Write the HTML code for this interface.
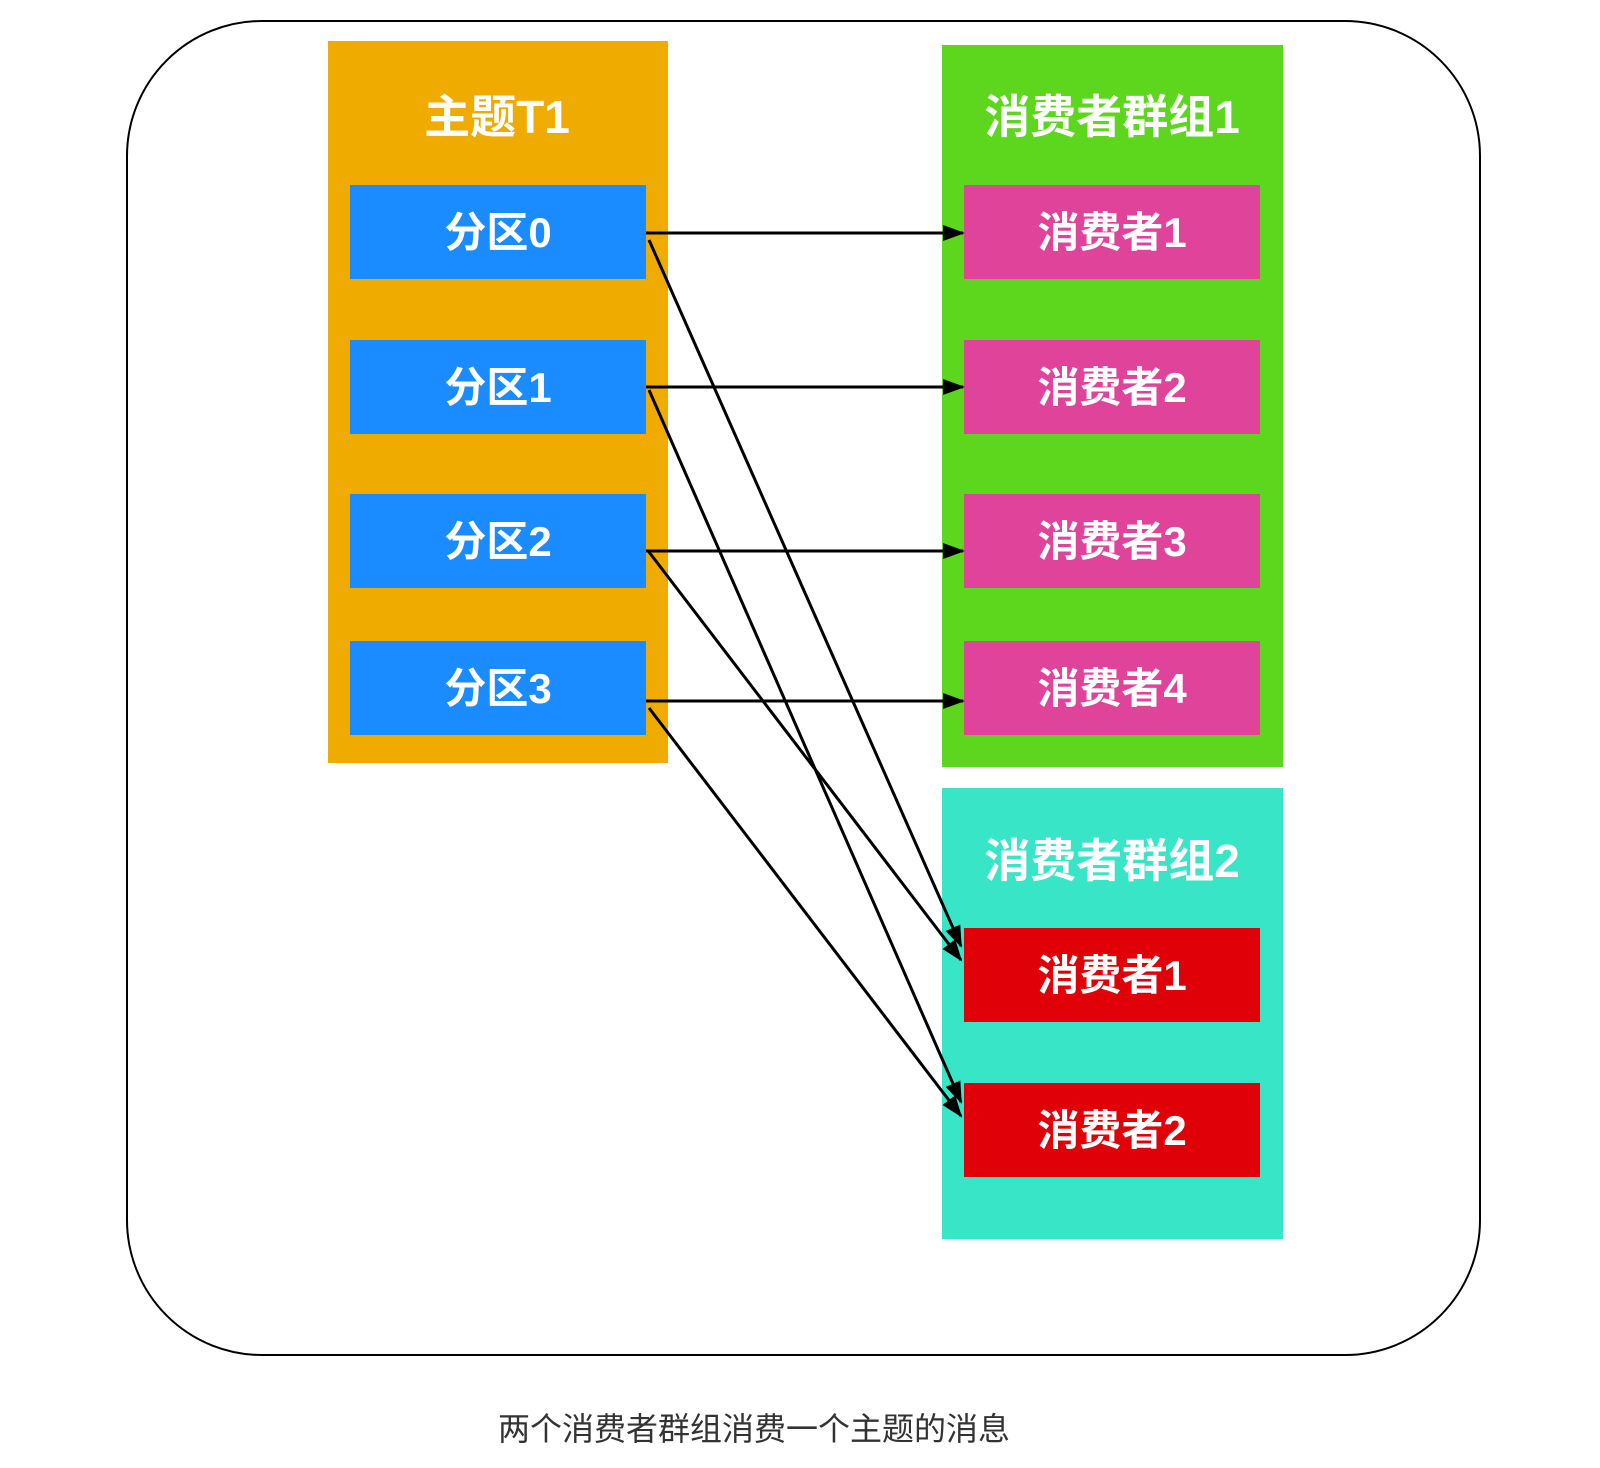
<!DOCTYPE html>
<html><head><meta charset="utf-8"><style>
body{margin:0;width:1600px;height:1468px;background:#fff;overflow:hidden;font-family:"Liberation Sans","Noto Sans CJK SC",sans-serif}
</style></head><body>
<svg width="1600" height="1468" xmlns="http://www.w3.org/2000/svg" style="position:absolute;left:0;top:0">
<defs>
<marker id="b" markerWidth="22" markerHeight="16" refX="20" refY="8" orient="auto" markerUnits="userSpaceOnUse"><path d="M0,0 L22,8 L0,16 z" fill="#000"/></marker></defs>
<rect x="127" y="21" width="1353" height="1334" rx="135" ry="135" fill="none" stroke="#000" stroke-width="2"/>
<rect x="328" y="41" width="340" height="722" fill="#F0AB00"/>
<rect x="942" y="45" width="341" height="722" fill="#5DD61E"/>
<rect x="942" y="788" width="341" height="451" fill="#38E5C7"/>
<g fill="#1A8CFF"><rect x="350" y="185" width="296" height="94"/><rect x="350" y="340" width="296" height="94"/><rect x="350" y="494" width="296" height="94"/><rect x="350" y="641" width="296" height="94"/></g>
<g fill="#E0439A"><rect x="964" y="185" width="296" height="94"/><rect x="964" y="340" width="296" height="94"/><rect x="964" y="494" width="296" height="94"/><rect x="964" y="641" width="296" height="94"/></g>
<g fill="#E00008"><rect x="964" y="928" width="296" height="94"/><rect x="964" y="1083" width="296" height="94"/></g>
<g fill="#fff" font-weight="bold" text-anchor="middle" font-family="Liberation Sans, Noto Sans CJK SC, sans-serif">
<text x="497" y="133" font-size="46">主题T1</text>
<text x="1112" y="133" font-size="46">消费者群组1</text>
<text x="1112" y="877" font-size="46">消费者群组2</text>
</g>
<g fill="#fff" text-anchor="middle" font-size="42" font-weight="bold" font-family="Liberation Sans, Noto Sans CJK SC, sans-serif">
<text x="498" y="247">分区0</text><text x="498" y="402">分区1</text><text x="498" y="556">分区2</text><text x="498" y="703">分区3</text>
<text x="1112" y="247">消费者1</text><text x="1112" y="402">消费者2</text><text x="1112" y="556">消费者3</text><text x="1112" y="703">消费者4</text>
<text x="1112" y="990">消费者1</text><text x="1112" y="1145">消费者2</text>
</g>
<g stroke="#000" stroke-width="3" fill="none" marker-end="url(#b)">
<line x1="646" y1="233" x2="963" y2="233"/>
<line x1="646" y1="387" x2="963" y2="387"/>
<line x1="646" y1="551" x2="963" y2="551"/>
<line x1="646" y1="701" x2="963" y2="701"/>
<line x1="649" y1="240" x2="961" y2="946"/>
<line x1="649" y1="552" x2="961" y2="960"/>
<line x1="649" y1="390" x2="961" y2="1102"/>
<line x1="649" y1="708" x2="961" y2="1116"/>
</g>
<text x="754" y="1440" font-size="32" fill="#333" text-anchor="middle" font-family="Liberation Sans, Noto Sans CJK SC, sans-serif">两个消费者群组消费一个主题的消息</text>
</svg>
</body></html>
